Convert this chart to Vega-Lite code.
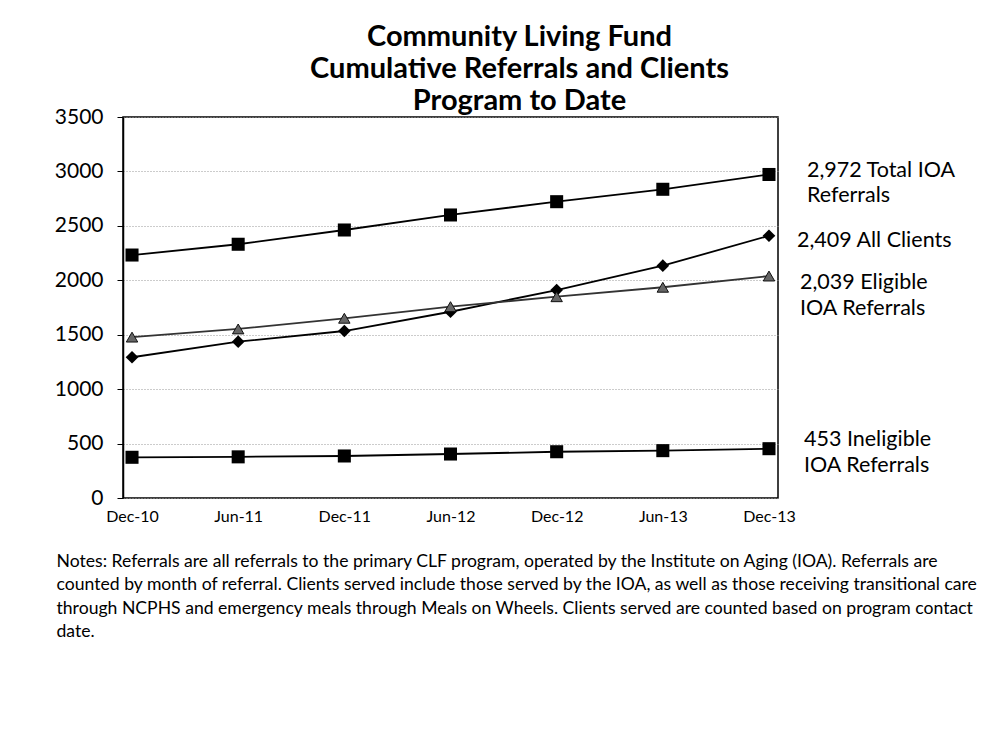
{
  "$schema": "https://vega.github.io/schema/vega-lite/v6.json",
  "width": 655,
  "height": 381,
  "autosize": {"type": "none"},
  "padding": {"left": 123, "top": 117, "right": 212, "bottom": 245},
  "background": "white",
  "title": {
    "text": ["Community Living Fund", "Cumulative Referrals and Clients", "Program to Date"],
    "font": "Lato",
    "fontSize": 29,
    "fontWeight": "bold",
    "color": "black",
    "anchor": "middle",
    "lineHeight": 32,
    "offset": -10,
    "dx": 69
  },
  "config": {
    "view": {"stroke": "black", "strokeWidth": 1.5},
    "font": "Lato"
  },
  "data": {
    "values": [
      {"month": "Dec-10", "series": "Total IOA Referrals", "value": 2232},
      {"month": "Jun-11", "series": "Total IOA Referrals", "value": 2331},
      {"month": "Dec-11", "series": "Total IOA Referrals", "value": 2462},
      {"month": "Jun-12", "series": "Total IOA Referrals", "value": 2600},
      {"month": "Dec-12", "series": "Total IOA Referrals", "value": 2722},
      {"month": "Jun-13", "series": "Total IOA Referrals", "value": 2836},
      {"month": "Dec-13", "series": "Total IOA Referrals", "value": 2972},
      {"month": "Dec-10", "series": "All Clients", "value": 1293},
      {"month": "Jun-11", "series": "All Clients", "value": 1436},
      {"month": "Dec-11", "series": "All Clients", "value": 1534},
      {"month": "Jun-12", "series": "All Clients", "value": 1711},
      {"month": "Dec-12", "series": "All Clients", "value": 1910},
      {"month": "Jun-13", "series": "All Clients", "value": 2134},
      {"month": "Dec-13", "series": "All Clients", "value": 2409},
      {"month": "Dec-10", "series": "Eligible IOA Referrals", "value": 1478},
      {"month": "Jun-11", "series": "Eligible IOA Referrals", "value": 1553},
      {"month": "Dec-11", "series": "Eligible IOA Referrals", "value": 1651},
      {"month": "Jun-12", "series": "Eligible IOA Referrals", "value": 1758},
      {"month": "Dec-12", "series": "Eligible IOA Referrals", "value": 1849},
      {"month": "Jun-13", "series": "Eligible IOA Referrals", "value": 1936},
      {"month": "Dec-13", "series": "Eligible IOA Referrals", "value": 2039},
      {"month": "Dec-10", "series": "Ineligible IOA Referrals", "value": 374},
      {"month": "Jun-11", "series": "Ineligible IOA Referrals", "value": 378},
      {"month": "Dec-11", "series": "Ineligible IOA Referrals", "value": 386},
      {"month": "Jun-12", "series": "Ineligible IOA Referrals", "value": 404},
      {"month": "Dec-12", "series": "Ineligible IOA Referrals", "value": 425},
      {"month": "Jun-13", "series": "Ineligible IOA Referrals", "value": 435},
      {"month": "Dec-13", "series": "Ineligible IOA Referrals", "value": 453}
    ]
  },
  "encoding": {
    "x": {
      "field": "month",
      "type": "ordinal",
      "sort": null,
      "scale": {"type": "point", "padding": 0.085},
      "axis": {
        "labelAngle": 0,
        "labelFont": "Lato",
        "labelFontSize": 16,
        "labelColor": "black",
        "labelPadding": 10,
        "ticks": false,
        "domain": false,
        "grid": false,
        "title": [
          "Notes: Referrals are all referrals to the primary CLF program, operated by the Institute on Aging (IOA).  Referrals are",
          "counted by month of referral.  Clients served include those served by the IOA, as well as those receiving transitional care",
          "through NCPHS and emergency meals through Meals on Wheels. Clients served are counted based on program contact",
          "date."
        ],
        "titleFont": "Lato",
        "titleFontSize": 17.6,
        "titleFontWeight": "normal",
        "titleColor": "black",
        "titleAnchor": "start",
        "titleAlign": "left",
        "titleBaseline": "middle",
        "titleLineHeight": 23.5,
        "titleX": -67,
        "titleY": 63
      }
    },
    "y": {
      "field": "value",
      "type": "quantitative",
      "scale": {"domain": [0, 3500], "nice": false},
      "axis": {
        "values": [0, 500, 1000, 1500, 2000, 2500, 3000, 3500],
        "format": "d",
        "labelFont": "Lato",
        "labelFontSize": 21,
        "labelColor": "black",
        "labelPadding": 14,
        "tickColor": "black",
        "tickSize": 6,
        "domainColor": "black",
        "domainWidth": 1.5,
        "gridColor": "#999999",
        "gridDash": [1, 2],
        "gridWidth": 1,
        "title": null
      }
    }
  },
  "layer": [
    {
      "mark": {"type": "line", "strokeWidth": 1.8},
      "encoding": {
        "detail": {"field": "series"},
        "color": {
          "field": "series",
          "type": "nominal",
          "scale": {
            "domain": ["Total IOA Referrals", "All Clients", "Eligible IOA Referrals", "Ineligible IOA Referrals"],
            "range": ["#000000", "#000000", "#333333", "#000000"]
          },
          "legend": null
        }
      }
    },
    {
      "transform": [{"filter": "datum.series == 'Total IOA Referrals' || datum.series == 'Ineligible IOA Referrals'"}],
      "mark": {"type": "point", "shape": "square", "filled": true, "size": 170, "color": "black", "opacity": 1}
    },
    {
      "transform": [{"filter": "datum.series == 'All Clients'"}],
      "mark": {"type": "point", "shape": "diamond", "filled": true, "size": 160, "color": "black", "opacity": 1}
    },
    {
      "transform": [{"filter": "datum.series == 'Eligible IOA Referrals'"}],
      "mark": {"type": "point", "shape": "triangle-up", "filled": true, "size": 130, "fill": "#666666", "stroke": "#111111", "strokeWidth": 1, "opacity": 1}
    },
    {
      "transform": [{"filter": "datum.series == 'Total IOA Referrals' && datum.month == 'Dec-13'"}],
      "mark": {"type": "text", "align": "left", "baseline": "middle", "dx": 38, "dy": -3, "font": "Lato", "fontSize": 21.5, "lineHeight": 25, "color": "black"},
      "encoding": {"text": {"value": ["2,972 Total IOA", "Referrals"]}}
    },
    {
      "transform": [{"filter": "datum.series == 'All Clients' && datum.month == 'Dec-13'"}],
      "mark": {"type": "text", "align": "left", "baseline": "middle", "dx": 28, "dy": 5.5, "font": "Lato", "fontSize": 21.5, "lineHeight": 25, "color": "black"},
      "encoding": {"text": {"value": "2,409 All Clients"}}
    },
    {
      "transform": [{"filter": "datum.series == 'Eligible IOA Referrals' && datum.month == 'Dec-13'"}],
      "mark": {"type": "text", "align": "left", "baseline": "middle", "dx": 31, "dy": 7, "font": "Lato", "fontSize": 21.5, "lineHeight": 26, "color": "black"},
      "encoding": {"text": {"value": ["2,039 Eligible", "IOA Referrals"]}}
    },
    {
      "transform": [{"filter": "datum.series == 'Ineligible IOA Referrals' && datum.month == 'Dec-13'"}],
      "mark": {"type": "text", "align": "left", "baseline": "middle", "dx": 35, "dy": -9, "font": "Lato", "fontSize": 21.5, "lineHeight": 26, "color": "black"},
      "encoding": {"text": {"value": ["453 Ineligible", "IOA Referrals"]}}
    }
  ]
}
